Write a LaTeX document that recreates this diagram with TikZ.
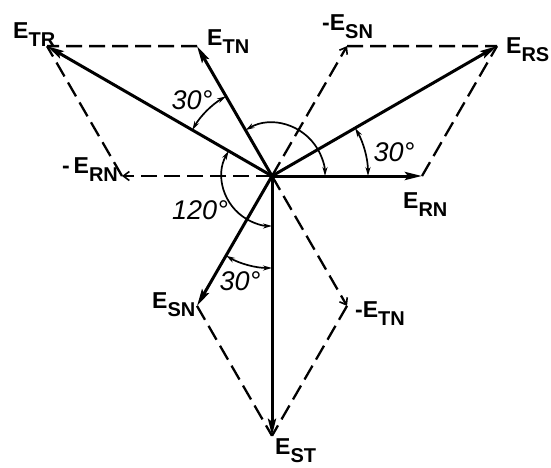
\documentclass[tikz,border=0pt]{standalone}
\usepackage{fontspec}
\setmainfont{Liberation Sans}
\usetikzlibrary{arrows.meta,calc}
\newcommand\Elab[1]{{\fontsize{23}{23}\selectfont\bfseries E}\raisebox{-8pt}{\fontsize{20}{20}\selectfont\bfseries #1}}
\newcommand\Deg[1]{{\fontsize{27}{27}\selectfont\itshape #1°}}
\begin{document}
\begin{tikzpicture}[x=1pt,y=1pt,
 vec/.style={line width=3pt,-{Stealth[length=17pt,width=8pt,inset=3pt]}},
 neg/.style={line width=2.3pt,dash pattern=on 16pt off 7pt,-{Straight Barb[length=6pt,width=9pt,line width=1.6pt]}},
 aux/.style={line width=2.3pt,dash pattern=on 16pt off 7pt},
 ang/.style={line width=1.7pt,{Stealth[length=9pt,width=5pt]}-{Stealth[length=9pt,width=5pt]}},
 lab/.style={inner sep=0pt,anchor=base west},
 deg/.style={inner sep=0pt}]
\useasboundingbox (0,0) rectangle (551,-467);
\coordinate (O) at (272,-176);
\coordinate (RN) at ($(O)+(0:150)$);
\coordinate (TN) at ($(O)+(120:150)$);
\coordinate (SN) at ($(O)+(240:150)$);
\coordinate (mRN) at ($(O)+(180:150)$);
\coordinate (mSN) at ($(O)+(60:150)$);
\coordinate (mTN) at ($(O)+(300:150)$);
\coordinate (TR) at ($(O)+(150:259.8)$);
\coordinate (RS) at ($(O)+(30:259.8)$);
\coordinate (ST) at ($(O)+(270:259.8)$);
% dashed construction lines
\draw[neg] (O) -- (mRN);
\draw[neg] (O) -- (mSN);
\draw[neg] (O) -- (mTN);
\draw[aux] (mRN) -- (TR);
\draw[aux] (TN) -- (TR);
\draw[aux] (mSN) -- (RS);
\draw[aux] (RN) -- (RS);
\draw[aux] (mTN) -- (ST);
\draw[aux] (SN) -- (ST);
% solid vectors
\draw[vec] (O) -- (RN);
\draw[vec] (O) -- (TN);
\draw[vec] (O) -- (SN);
\draw[vec] (O) -- (TR);
\draw[vec] (O) -- (RS);
\draw[vec] (O) -- (ST);
\fill (O) circle[radius=3pt];
% angle arcs
\draw[ang] ($(O)+(150:92)$) arc[start angle=150,end angle=120,radius=92pt];
\draw[ang] ($(O)+(120:53)$) arc[start angle=120,end angle=0,radius=53pt];
\draw[ang] ($(O)+(0:96)$) arc[start angle=0,end angle=30,radius=96pt];
\draw[ang] ($(O)+(150:50)$) arc[start angle=150,end angle=270,radius=50pt];
\draw[ang] ($(O)+(240:92)$) arc[start angle=240,end angle=270,radius=92pt];
% labels
\node[lab] (lTR) at (13,-38) {\Elab{TR}};
\node[lab] (lTN) at (207,-45) {\Elab{TN}};
\node[lab] (lmSN) at (322,-30) {{\fontsize{23}{23}\selectfont\bfseries -}\Elab{SN}};
\node[lab] (lRS) at (506,-53) {\Elab{RS}};
\node[lab] (lmRN) at (62,-173) {{\fontsize{23}{23}\selectfont\bfseries -\,}\Elab{RN}};
\node[lab] (lRN) at (403,-208) {\Elab{RN}};
\node[lab] (lSN) at (152,-308) {\Elab{SN}};
\node[lab] (lmTN) at (355,-317) {{\fontsize{23}{23}\selectfont\bfseries -}\Elab{TN}};
\node[lab] (lST) at (275,-454) {\Elab{ST}};
\node[deg] (d1) at (192,-100) {\Deg{30}};
\node[deg] (d2) at (394,-152) {\Deg{30}};
\node[deg] (d3) at (200,-210) {\Deg{120}};
\node[deg] (d4) at (240,-281) {\Deg{30}};
\end{tikzpicture}
\end{document}
